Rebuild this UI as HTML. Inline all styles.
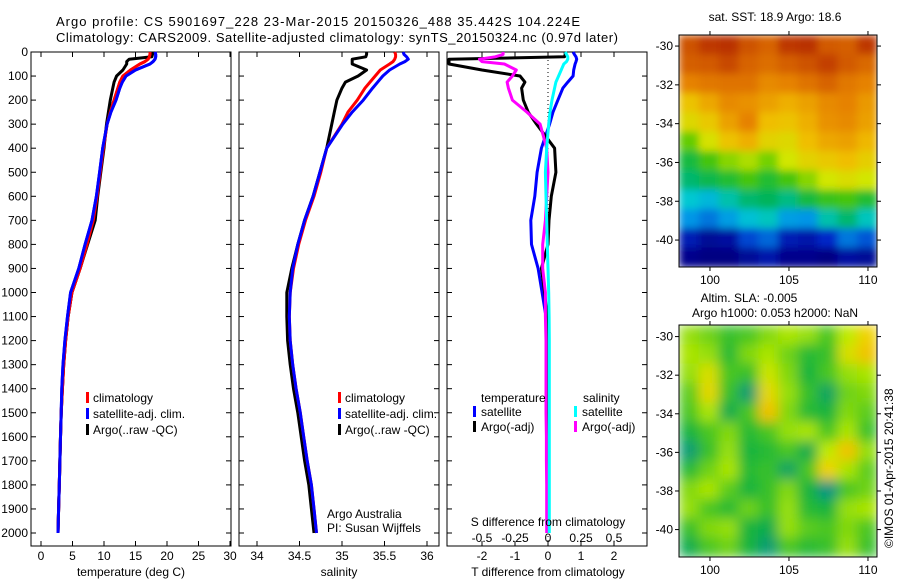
<!DOCTYPE html>
<html><head><meta charset="utf-8"><style>
html,body{margin:0;padding:0;background:#fff;}
svg{display:block;font-family:"Liberation Sans",sans-serif;}
</style></head><body>
<svg id="fig" width="900" height="580" viewBox="0 0 900 580" xmlns="http://www.w3.org/2000/svg">
<defs>
<filter id="blurSst" filterUnits="userSpaceOnUse" x="679" y="35" width="198" height="232"><feGaussianBlur stdDeviation="4" edgeMode="duplicate"/></filter>
<filter id="blurSla" filterUnits="userSpaceOnUse" x="679" y="325" width="198" height="232"><feGaussianBlur stdDeviation="6" edgeMode="duplicate"/></filter>
</defs>
<text x="56" y="26" font-size="13" textLength="524">Argo profile: CS 5901697_228 23-Mar-2015 20150326_488 35.442S 104.224E</text>
<text x="56" y="42" font-size="13" textLength="562">Climatology: CARS2009. Satellite-adjusted climatology: synTS_20150324.nc (0.97d later)</text>
<g id="g"></g>
</svg>
<script>
// ---- data ----
const depths=[0,10,20,30,40,50,75,100,125,150,200,250,300,400,500,600,700,800,900,1000,1100,1200,1300,1400,1500,1600,1700,1800,1900,2000];
const tClim=[17.3,17.3,17.2,17.0,16.5,15.7,14.2,13.0,12.5,12.2,11.6,11.0,10.5,9.9,9.4,8.9,8.3,7.3,6.2,4.9,4.3,3.9,3.6,3.4,3.2,3.1,3.0,2.9,2.8,2.7];
const tSat=[18.1,18.2,18.2,18.1,17.8,17.3,15.0,13.5,12.9,12.5,11.9,11.1,10.5,9.8,9.3,8.8,8.1,7.0,6.0,4.7,4.2,3.8,3.5,3.3,3.2,3.1,3.0,2.9,2.8,2.7];
const tArgo=[17.7,17.7,17.6,14.0,13.6,13.6,13.0,12.0,11.6,11.4,11.0,10.7,10.4,10.0,9.5,9.0,8.6,7.4,6.2,4.9,4.3,3.9,3.6,3.4,3.2,3.1,3.0,2.9,2.8,2.7];
const sClim=[35.62,35.63,35.63,35.62,35.6,35.56,35.45,35.39,35.33,35.27,35.18,35.07,35.0,34.82,34.75,34.67,34.57,34.49,34.43,34.39,34.38,34.39,34.42,34.46,34.51,34.55,34.59,34.64,34.67,34.7];
const sSat=[35.72,35.73,35.76,35.78,35.74,35.68,35.56,35.48,35.42,35.36,35.25,35.12,35.01,34.82,34.74,34.66,34.56,34.48,34.42,34.39,34.38,34.39,34.42,34.46,34.51,34.55,34.59,34.64,34.67,34.7];
const sArgo=[35.29,35.29,35.28,35.12,35.12,35.12,35.29,35.19,35.04,35.0,34.94,34.91,34.88,34.82,34.74,34.66,34.56,34.48,34.41,34.35,34.35,34.36,34.39,34.43,34.48,34.52,34.56,34.61,34.64,34.67];
const dTArgo=[0.52,0.52,0.5,-3,-3,-3,-2,-0.85,-0.7,-0.8,-0.75,-0.6,-0.35,0.2,0.24,0.1,0.03,0.0,-0.2,-0.1,-0.03,-0.02,-0.01,0,0,0,0,0,0,0];
const dTSat=[0.76,0.8,0.85,0.87,0.85,0.82,0.78,0.76,0.6,0.45,0.3,0.15,0.05,-0.2,-0.33,-0.4,-0.52,-0.5,-0.3,-0.18,-0.06,-0.04,-0.03,-0.02,-0.02,-0.01,-0.01,0,0,0];
const dSArgo=[-0.34,-0.34,-0.4,-0.52,-0.5,-0.33,-0.24,-0.27,-0.31,-0.3,-0.27,-0.16,-0.06,-0.01,0.0,-0.01,-0.02,-0.04,-0.04,-0.02,-0.02,-0.015,-0.015,-0.015,-0.015,-0.012,-0.012,-0.01,-0.01,-0.01];
const dSSat=[0.13,0.14,0.15,0.15,0.14,0.12,0.1,0.08,0.06,0.05,0.03,0.015,0.005,-0.01,-0.02,-0.015,-0.01,-0.005,0.0,0.005,0.008,0.01,0.01,0.01,0.01,0.01,0.01,0.01,0.01,0.01];
const depthTicks=[0,100,200,300,400,500,600,700,800,900,1000,1100,1200,1300,1400,1500,1600,1700,1800,1900,2000];
const tempTicks=[0,5,10,15,20,25,30];
const salTicks=[34,34.5,35,35.5,36];
const salTickLabels=["34","34.5","35","35.5","36"];
const dTTicks=[-2,-1,0,1,2];
const dSTicks=[-0.5,-0.25,0,0.25,0.5];
const dSTickLabels=["-0.5","-0.25","0","0.25","0.5"];
const lonTicks=[100,105,110];
const latTicks=[-30,-32,-34,-36,-38,-40];
const sstGrid=[
[20.5,20.8,20.9,20.5,20.2,20.8,20.9,20.4,20.3,20.8],
[20.3,20.4,20.6,20.2,20.0,20.3,20.5,20.7,20.4,20.1],
[19.6,19.8,19.9,19.9,19.5,19.6,19.9,20.2,19.8,19.6],
[18.7,19.1,19.5,19.4,19.2,19.0,19.2,19.5,19.6,19.3],
[18.3,18.6,19.2,19.6,18.8,18.7,19.0,19.4,19.5,19.2],
[17.4,18.1,18.7,19.0,18.4,18.3,18.8,19.1,19.2,18.9],
[16.8,17.2,17.6,17.8,17.5,18.0,18.4,18.6,18.8,18.5],
[16.5,16.7,16.9,17.2,16.9,17.2,17.6,18.0,18.2,18.0],
[16.0,15.8,16.2,16.5,16.6,16.4,16.8,17.1,17.2,16.9],
[15.4,15.2,15.5,15.9,16.1,15.5,15.4,16.2,16.5,16.1],
[14.5,14.2,14.3,14.9,15.1,14.5,14.4,14.7,15.2,15.0],
[14.1,14.0,14.0,14.2,14.4,14.1,14.1,14.0,14.3,14.2]];
const slaGrid=[
[0.02,0.0,-0.03,-0.02,0.01,0.03,0.02,-0.02,0.04,0.08],
[0.03,0.02,-0.04,0.01,0.03,0.0,-0.04,-0.03,0.06,0.09],
[0.02,0.06,-0.02,-0.03,0.05,0.01,-0.05,-0.02,0.02,0.03],
[-0.01,0.07,-0.03,-0.08,0.07,0.02,-0.03,-0.07,0.0,0.01],
[-0.02,0.03,-0.06,-0.02,0.09,0.01,-0.04,-0.05,0.01,-0.01],
[-0.05,-0.02,0.01,-0.04,-0.02,0.02,0.03,-0.02,0.03,-0.03],
[-0.08,-0.03,0.02,-0.05,-0.04,-0.02,-0.06,0.04,0.09,0.02],
[-0.04,0.0,0.03,-0.04,-0.03,-0.07,-0.02,0.08,0.03,-0.01],
[0.01,0.03,-0.01,-0.05,-0.03,0.01,-0.05,-0.09,-0.02,0.0],
[0.02,-0.02,-0.04,0.0,-0.03,0.02,-0.04,-0.05,0.02,0.03],
[-0.03,0.01,0.02,-0.05,-0.06,0.02,-0.01,-0.02,0.01,-0.02],
[-0.06,-0.02,0.0,-0.05,-0.08,-0.02,-0.04,-0.03,0.02,-0.03]];

// ---- helpers ----
const NS="http://www.w3.org/2000/svg";
const G=document.getElementById('g');
function mk(tag,attrs,parent){const e=document.createElementNS(NS,tag);for(const k in attrs)e.setAttribute(k,attrs[k]);(parent||G).appendChild(e);return e;}
function txt(x,y,s,size,anchor){const e=mk('text',{x:x,y:y,'font-size':size||12,'text-anchor':anchor||'start',fill:'#000'});e.textContent=s;return e;}
const yTop=52,yPx=0.2405,yBot=546;
const yD=d=>yTop+d*yPx;
const xT=v=>41+6.3*v;
const xS=v=>257+85*(v-34);
const xdT=v=>548+33*v;
const xdS=v=>548+132*v;

function panel(x0,x1,name){
  const r=mk('rect',{x:x0,y:yTop,width:x1-x0,height:yBot-yTop,fill:'none',stroke:'#000','stroke-width':1});
  
  
  depthTicks.forEach(d=>{mk('line',{x1:x0,x2:x0+5,y1:yD(d),y2:yD(d),stroke:'#000'});mk('line',{x1:x1-5,x2:x1,y1:yD(d),y2:yD(d),stroke:'#000'});});
}
function line(xs,xf,color,name,lo,hi){
  const clip=v=>Math.max(lo,Math.min(hi,v));
  const pts=depths.map((d,i)=>clip(xf(xs[i])).toFixed(1)+','+yD(d).toFixed(1)).join(' ');
  const p=mk('polyline',{points:pts,fill:'none',stroke:color,'stroke-width':3,'stroke-linejoin':'round'});
  
  
}
function xticks(ticks,labels,xf,y,top){
  ticks.forEach((t,i)=>{const x=xf(t);
    mk('line',{x1:x,x2:x,y1:yBot-5,y2:yBot,stroke:'#000'});
    if(top) mk('line',{x1:x,x2:x,y1:yTop,y2:yTop+5,stroke:'#000'});
    const l=txt(x,y,labels?labels[i]:String(t),12,'middle');
    
    
  });
}
depthTicks.forEach(d=>{const l=txt(28,yD(d)+4,String(d),12,'end');
  
  });

// panel 1 temperature
panel(31,231,'temperature-panel');
xticks(tempTicks,null,xT,560,true);
line(tClim,xT,'#ff0000','temp-climatology-line',31.5,230.5);
line(tSat,xT,'#0000ff','temp-satellite-line',31.5,230.5);
line(tArgo,xT,'#000000','temp-argo-line',31.5,230.5);
line(tClim,xT,'#ff0000','temp-climatology-line-top',31.5,230.5);
line(tSat,xT,'#0000ff','temp-satellite-line-top',31.5,230.5);
let a=txt(131,576,'temperature (deg C)',12,'middle');

// panel 2 salinity
panel(239,439,'salinity-panel');
xticks(salTicks,salTickLabels,xS,560,true);
line(sArgo,xS,'#000000','sal-argo-line',239.5,438.5);
line(sClim,xS,'#ff0000','sal-climatology-line',239.5,438.5);
line(sSat,xS,'#0000ff','sal-satellite-line',239.5,438.5);
a=txt(339,576,'salinity',12,'middle');
a=txt(327,518,'Argo Australia',12);
a=txt(327,532,'PI: Susan Wijffels',12);

function legend(bx,entries,prefix){
  entries.forEach((e,i)=>{const y=398+i*16;
    const b=mk('rect',{x:bx,y:y-6,width:3,height:11,fill:e[0]});
    
    
    const t=txt(bx+7,y+4,e[1],12);
    
    });
}
legend(86,[['#ff0000','climatology'],['#0000ff','satellite-adj. clim.'],['#000','Argo(..raw -QC)']],'temp');
legend(338,[['#ff0000','climatology'],['#0000ff','satellite-adj. clim.'],['#000','Argo(..raw -QC)']],'sal');

// panel 3 differences
panel(447,647,'difference-panel');
mk('line',{x1:548,x2:548,y1:yTop,y2:yBot,stroke:'#000','stroke-dasharray':'1,3'});
xticks(dTTicks,null,xdT,560,false);
dSTicks.forEach((t,i)=>{const x=xdS(t);mk('line',{x1:x,x2:x,y1:yTop,y2:yTop+5,stroke:'#000'});
  const l=txt(x,542,dSTickLabels[i],12,'middle');
  
  });
line(dTSat,xdT,'#0000ff','t-diff-satellite-line',447.5,646.5);
line(dTArgo,xdT,'#000000','t-diff-argo-line',447.5,646.5);
line(dSArgo,xdS,'#ff00ff','s-diff-argo-line',447.5,646.5);
line(dSSat,xdS,'#00ffff','s-diff-satellite-line',447.5,646.5);
a=txt(548,526,'S difference from climatology',12,'middle');
a=txt(548,576,'T difference from climatology',12,'middle');
a=txt(481,402,'temperature',12);
a=txt(583,402,'salinity',12);
[[473,'#0000ff','satellite',0],[473,'#000','Argo(-adj)',1],[574,'#00ffff','satellite',0],[574,'#ff00ff','Argo(-adj)',1]].forEach(e=>{
  const y=412+e[3]*15;
  const b=mk('rect',{x:e[0],y:y-6,width:3,height:11,fill:e[1]});
  
  
  const t=txt(e[0]+8,y+4,e[2],12);
  
  });

// maps
function interp(stops,v){
  if(v<=stops[0][0])return stops[0][1];
  for(let i=1;i<stops.length;i++){if(v<=stops[i][0]){const f=(v-stops[i-1][0])/(stops[i][0]-stops[i-1][0]);
    return stops[i-1][1].map((c0,k)=>Math.round(c0+f*(stops[i][1][k]-c0)));}}
  return stops[stops.length-1][1];
}
const sstStops=[[14,[0,0,130]],[14.7,[0,40,200]],[15.4,[0,150,230]],[16,[0,200,210]],[16.6,[0,180,90]],[17.3,[80,200,0]],[18,[210,230,0]],[18.8,[240,190,0]],[19.6,[230,130,0]],[20.4,[210,90,0]],[21,[180,40,0]]];
const slaStops=[[-0.1,[0,140,150]],[-0.05,[20,180,60]],[0,[110,210,20]],[0.04,[190,235,0]],[0.08,[240,210,0]],[0.12,[240,150,0]]];
function map(x0,y0,w,h,grid,stops,latTopV,latPx,name,filt){
  const rows=grid.length,cols=grid[0].length,cw=w/cols,ch=h/rows;
  const grp=mk('g',{filter:'url(#'+filt+')'});
  
  
  grid.forEach((row,r)=>row.forEach((v,c)=>{const col=interp(stops,v);
    const cell=mk('rect',{x:(x0+c*cw).toFixed(2),y:(y0+r*ch).toFixed(2),width:(cw+0.6).toFixed(2),height:(ch+0.6).toFixed(2),fill:'rgb('+col.join(',')+')'},grp);
    
    }));
  const fr=mk('rect',{x:x0,y:y0,width:w,height:h,fill:'none',stroke:'#000'});
  
  
  const xL=v=>x0+(v-98.04)*15.8;
  lonTicks.forEach(t=>{const x=xL(t);mk('line',{x1:x,x2:x,y1:y0-4,y2:y0,stroke:'#000'});mk('line',{x1:x,x2:x,y1:y0+h,y2:y0+h+4,stroke:'#000'});
    const l=txt(x,y0+h+17,String(t),12,'middle');});
  latTicks.forEach(t=>{const y=y0+(latTopV-t)*latPx;mk('line',{x1:x0-4,x2:x0,y1:y,y2:y,stroke:'#000'});mk('line',{x1:x0+w,x2:x0+w+4,y1:y,y2:y,stroke:'#000'});
    const l=txt(x0-6,y+4,String(t),12,'end');});
}
map(679,35,198,232,sstGrid,sstStops,-29.43,19.4,'sst-map','blurSst');
map(679,325,198,232,slaGrid,slaStops,-29.4,19.3,'sla-map','blurSla');
a=txt(775,21,'sat. SST: 18.9 Argo: 18.6',12,'middle');
a=txt(749,302,'Altim. SLA: -0.005',12,'middle');
a=txt(775,317,'Argo h1000: 0.053 h2000: NaN',12,'middle');
a=txt(0,0,'©IMOS 01-Apr-2015 20:41:38',12,'start');a.setAttribute('transform','translate(893,548) rotate(-90)');
</script>
</body></html>
